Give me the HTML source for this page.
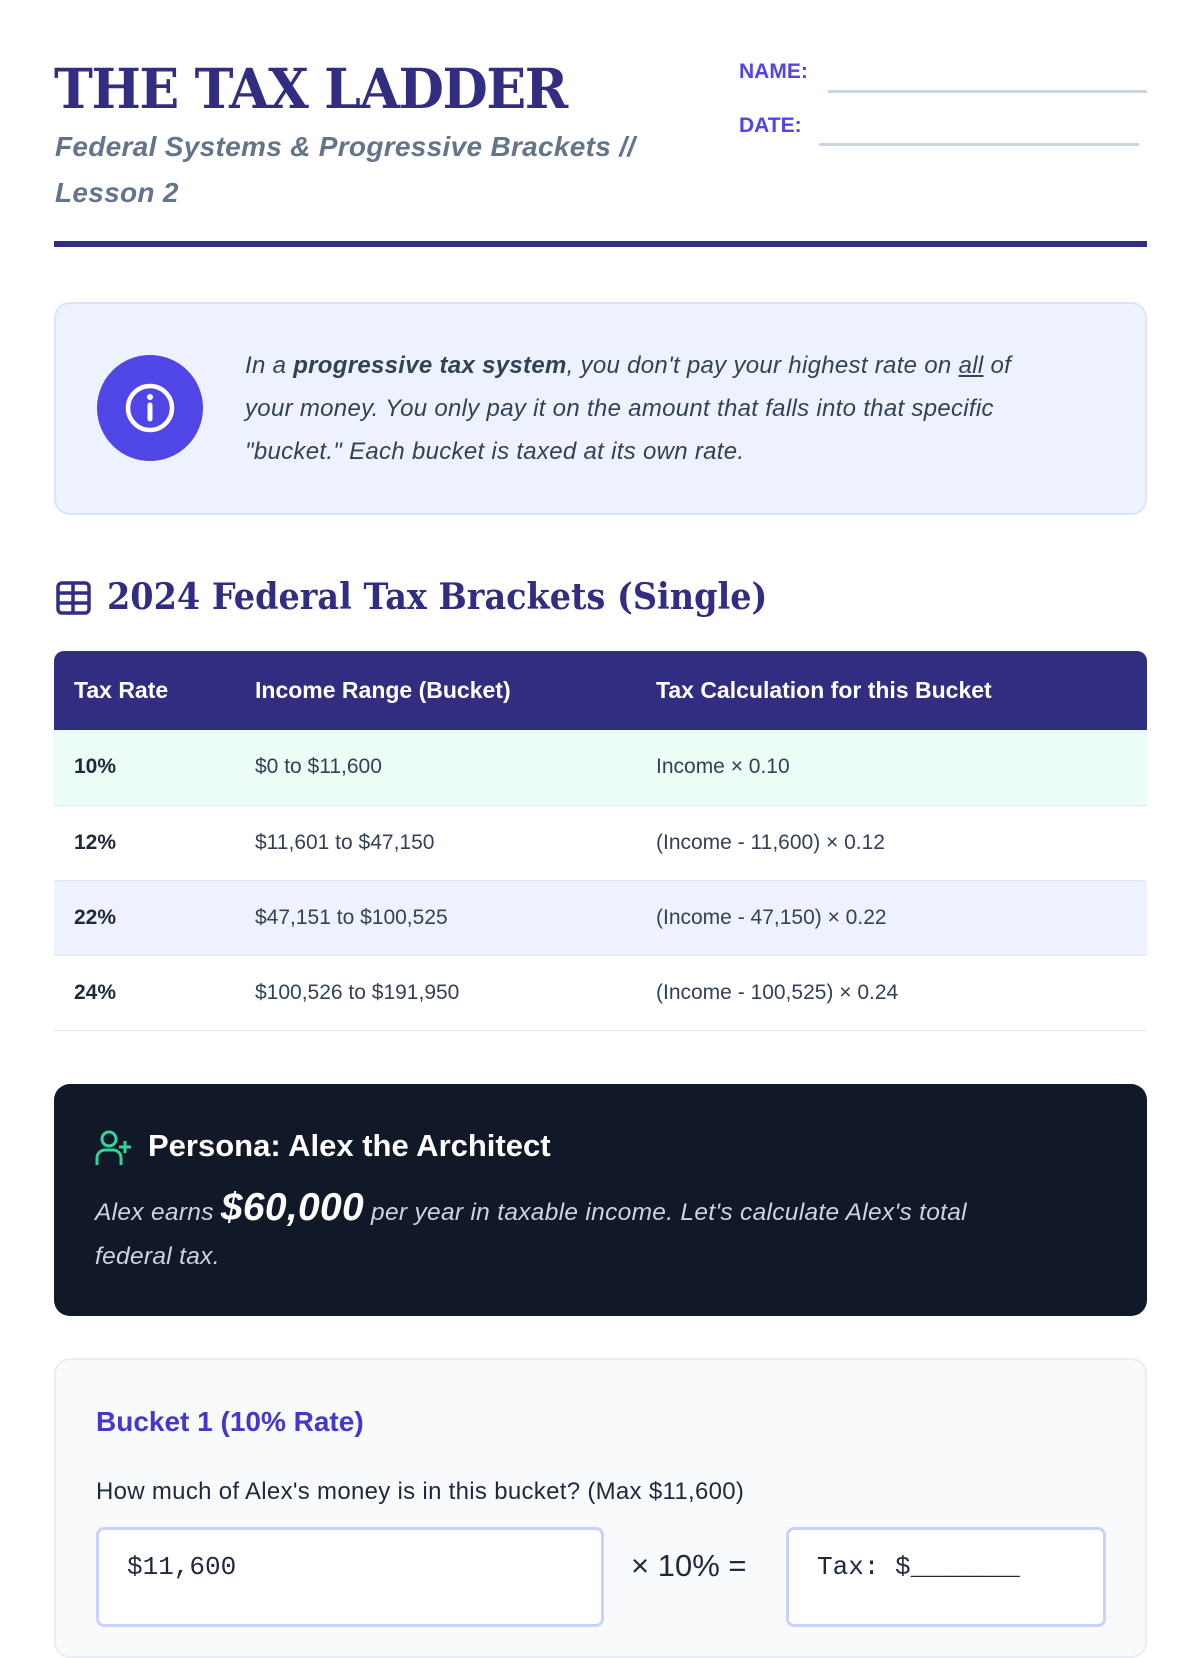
<!DOCTYPE html>
<html><head><meta charset="utf-8"><style>
*{box-sizing:border-box;margin:0;padding:0}
body{width:1200px;height:1600px;overflow:hidden;background:#fff;font-family:"Liberation Sans",sans-serif;position:relative;color:#1e293b}
.abs{position:absolute}
h1{position:absolute;left:54px;top:56px;font-family:"DejaVu Serif",serif;font-weight:bold;font-size:55px;color:#312e81;letter-spacing:-1.5px;transform:scaleX(0.95);transform-origin:left top;white-space:nowrap}
.sub{left:55px;top:124px;font-size:28px;font-style:italic;font-weight:bold;color:#64748b;line-height:46px;width:660px;letter-spacing:0.3px}
.lbl{font-size:21px;font-weight:bold;color:#4f46e5}
.line{height:3px;background:#cbd5e1}
.info{left:54px;top:302px;width:1093px;height:213px;background:#eef2ff;border:2px solid #dbe4ff;border-radius:16px}
.circ{left:97px;top:355px;width:106px;height:106px;border-radius:50%;background:#4f46e5}
.itext{left:245px;top:344px;width:880px;font-size:24px;font-style:italic;line-height:43px;color:#334155;letter-spacing:0.3px;white-space:nowrap}
table{position:absolute;left:54px;top:651px;width:1093px;border-collapse:collapse;font-size:21px}
th{background:#312e81;color:#fff;text-align:left;height:79px;font-weight:bold;font-size:23px;padding-left:20px}
td{height:75px;padding-left:20px;border-bottom:1px solid #e2e8f0;color:#334155}
td:first-child{font-weight:bold;color:#1e293b}
.dark{left:54px;top:1084px;width:1093px;height:232px;background:#111827;border-radius:16px}
.card{left:54px;top:1358px;width:1093px;height:300px;background:#f8fafc;border:2px solid #e9eef5;border-radius:16px}
.box{background:#fff;border:3px solid #c7d2fe;border-radius:8px;font-family:"Liberation Mono",monospace;font-size:26px;color:#1e293b;padding:22px 0 0 28px}
</style></head><body>
<h1>THE TAX LADDER</h1>
<div class="abs sub">Federal Systems &amp; Progressive Brackets // Lesson 2</div>
<div class="abs lbl" style="left:739px;top:60px">NAME:</div>
<div class="abs line" style="left:828px;top:90px;width:319px"></div>
<div class="abs lbl" style="left:739px;top:114px">DATE:</div>
<div class="abs line" style="left:819px;top:143px;width:320px"></div>
<div class="abs" style="left:54px;top:241px;width:1093px;height:6px;background:#312e81"></div>

<div class="abs info"></div>
<div class="abs circ"><svg width="106" height="106" viewBox="0 0 106 106"><circle cx="53" cy="53" r="22" fill="none" stroke="#fff" stroke-width="4.5"/><line x1="53" y1="50" x2="53" y2="64" stroke="#fff" stroke-width="5" stroke-linecap="round"/><circle cx="53" cy="42" r="3" fill="#fff"/></svg></div>
<div class="abs itext">In a <b>progressive tax system</b>, you don't pay your highest rate on <u>all</u> of<br>your money. You only pay it on the amount that falls into that specific<br>"bucket." Each bucket is taxed at its own rate.</div>

<svg class="abs" style="left:56px;top:581px" width="36" height="34" viewBox="0 0 36 34"><rect x="2" y="2" width="31" height="30" rx="4" fill="none" stroke="#312e81" stroke-width="3.5"/><line x1="2" y1="12" x2="33" y2="12" stroke="#312e81" stroke-width="3.5"/><line x1="2" y1="22" x2="33" y2="22" stroke="#312e81" stroke-width="3.5"/><line x1="17" y1="2" x2="17" y2="32" stroke="#312e81" stroke-width="3.5"/></svg>
<div class="abs" style="left:107px;top:576px;font-family:'DejaVu Serif',serif;font-weight:bold;font-size:36px;color:#312e81;transform:scaleX(0.93);transform-origin:left top;white-space:nowrap">2024 Federal Tax Brackets (Single)</div>

<table>
<tr><th style="width:181px;border-top-left-radius:10px">Tax Rate</th><th style="width:401px">Income Range (Bucket)</th><th style="border-top-right-radius:10px">Tax Calculation for this Bucket</th></tr>
<tr style="background:#ecfdf5"><td>10%</td><td>$0 to $11,600</td><td>Income × 0.10</td></tr>
<tr><td>12%</td><td>$11,601 to $47,150</td><td>(Income - 11,600) × 0.12</td></tr>
<tr style="background:#eef2ff"><td>22%</td><td>$47,151 to $100,525</td><td>(Income - 47,150) × 0.22</td></tr>
<tr><td>24%</td><td>$100,526 to $191,950</td><td>(Income - 100,525) × 0.24</td></tr>
</table>

<div class="abs dark"></div>
<svg class="abs" style="left:94px;top:1130px" width="40" height="36" viewBox="0 0 40 36"><circle cx="15" cy="9" r="7" fill="none" stroke="#34d399" stroke-width="3"/><path d="M3 35 V28 a8 8 0 0 1 8 -8 h8 a8 8 0 0 1 8 8 V35" fill="none" stroke="#34d399" stroke-width="3"/><line x1="31" y1="11" x2="31" y2="23" stroke="#34d399" stroke-width="3"/><line x1="25" y1="17" x2="37" y2="17" stroke="#34d399" stroke-width="3"/></svg>
<div class="abs" style="left:148px;top:1128px;font-size:31px;font-weight:bold;color:#fff">Persona: Alex the Architect</div>
<div class="abs" style="left:95px;top:1186px;width:980px;font-size:24.5px;font-style:italic;color:#cbd5e1;line-height:44px;letter-spacing:0.3px">Alex earns <b style="font-size:39px;color:#fff">$60,000</b> per year in taxable income. Let's calculate Alex's total<br>federal tax.</div>

<div class="abs card"></div>
<div class="abs" style="left:96px;top:1406px;font-size:28px;font-weight:bold;color:#4338ca">Bucket 1 (10% Rate)</div>
<div class="abs" style="left:96px;top:1478px;font-size:24px;color:#1e293b;letter-spacing:0.3px">How much of Alex's money is in this bucket? (Max $11,600)</div>
<div class="abs box" style="left:96px;top:1527px;width:508px;height:100px">$11,600</div>
<div class="abs" style="left:631px;top:1548px;font-size:31px;color:#1e293b">× 10% =</div>
<div class="abs box" style="left:786px;top:1527px;width:320px;height:100px">Tax: $_______</div>
</body></html>
